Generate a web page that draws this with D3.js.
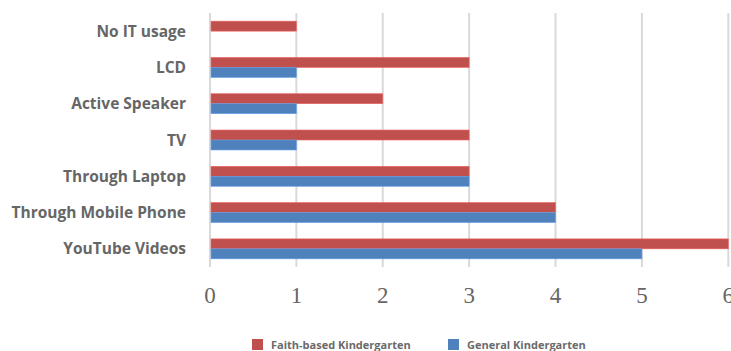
<!DOCTYPE html>
<html>
<head>
<meta charset="utf-8">
<script src="https://cdn.jsdelivr.net/npm/d3@7/dist/d3.min.js"></script>
<style>
  html, body { margin: 0; padding: 0; background: #fff; }
  svg { display: block; }
</style>
</head>
<body>
<svg id="chart" width="731" height="351"></svg>
<script>
const categories = ["No IT usage", "LCD", "Active Speaker", "TV", "Through Laptop", "Through Mobile Phone", "YouTube Videos"];
const faithBased = [1, 3, 2, 3, 3, 4, 6];
const general = [0, 1, 1, 1, 3, 4, 5];
const seriesNames = ["Faith-based Kindergarten", "General Kindergarten"];
const seriesColors = ["#C0504D", "#4F81BD"];
const xTicks = [0, 1, 2, 3, 4, 5, 6];

const svg = d3.select("#chart");

const x = d3.scaleLinear().domain([0, 6]).range([210, 728.3]);
const y = d3.scaleBand().domain(categories).range([13, 267]).paddingInner(0.45).paddingOuter(0.225);
const sub = d3.scaleBand().domain([0, 1]).range([0, y.bandwidth()]);

// grid lines
svg.append("g").selectAll("line").data(xTicks).join("line")
  .attr("x1", d => x(d)).attr("x2", d => x(d))
  .attr("y1", 13).attr("y2", 267)
  .attr("stroke", "#d9d9d9").attr("stroke-width", 2);

// bars
const series = [faithBased, general];
series.forEach((vals, si) => {
  svg.append("g").selectAll("rect").data(vals).join("rect")
    .attr("x", x(0) + 1)
    .attr("y", (d, i) => y(categories[i]) + sub(si))
    .attr("width", d => Math.max(0, x(d) - x(0) - 1))
    .attr("height", sub.bandwidth())
    .attr("fill", seriesColors[si])
    .attr("stroke", d3.color(seriesColors[si]).brighter(0.6))
    .attr("stroke-width", 0.6)
    .attr("display", d => d > 0 ? null : "none");
});

// category labels
svg.append("g").selectAll("text").data(categories).join("text")
  .attr("x", 186)
  .attr("y", d => y(d) + y.bandwidth() / 2)
  .attr("dy", "0.36em")
  .attr("text-anchor", "end")
  .attr("font-family", "'Open Sans', sans-serif")
  .attr("font-weight", "bold")
  .attr("font-size", "15.5px")
  .attr("fill", "#666")
  .text(d => d);

// x tick labels
svg.append("g").selectAll("text").data(xTicks).join("text")
  .attr("x", d => x(d))
  .attr("y", 303)
  .attr("text-anchor", "middle")
  .attr("font-family", "'Liberation Serif', serif")
  .attr("font-size", "23px")
  .attr("fill", "#666")
  .text(d => d);

// legend
const legendX = [252, 448];
const lg = svg.append("g").selectAll("g").data(seriesNames).join("g")
  .attr("transform", (d, i) => `translate(${legendX[i]},339)`);
lg.append("rect").attr("width", 11).attr("height", 11).attr("fill", (d, i) => seriesColors[i]);
lg.append("text")
  .attr("x", 19).attr("y", 10)
  .attr("font-family", "'Open Sans', sans-serif")
  .attr("font-weight", "bold")
  .attr("font-size", "11px")
  .attr("fill", "#6a6a6a")
  .text(d => d);
</script>
</body>
</html>
